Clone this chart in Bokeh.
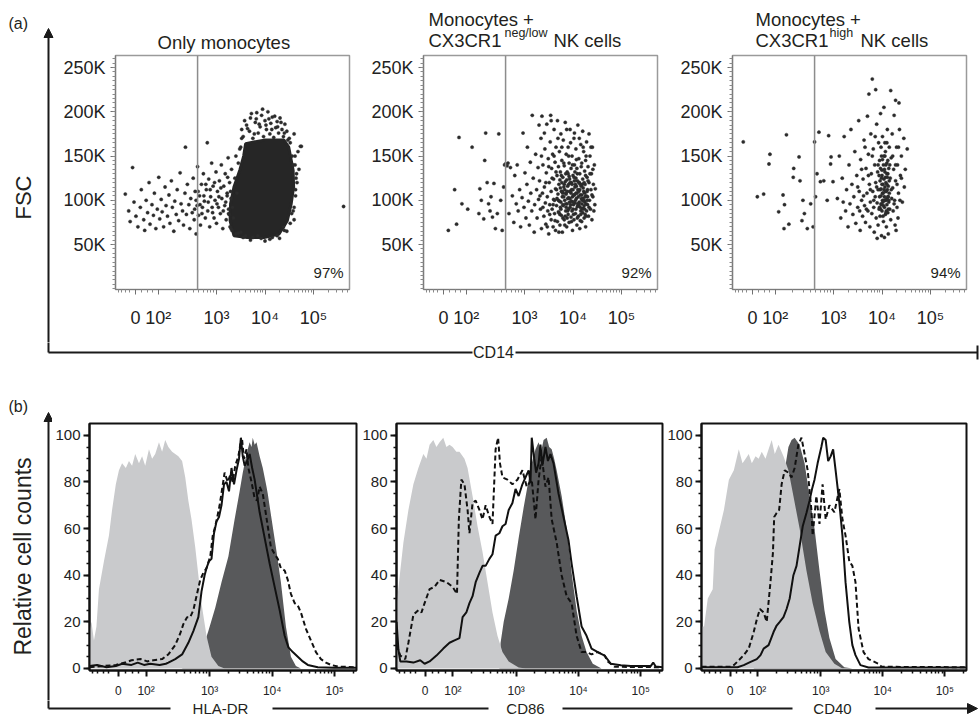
import math
from bokeh.plotting import figure
from bokeh.layouts import row, column
from bokeh.models import Range1d, FixedTicker, Span, Arrow, NormalHead
from bokeh.core.properties import value
from bokeh.embed import file_html
from bokeh.resources import INLINE

FONT = "Liberation Sans"
INK = "#231f20"

# ---------------- (a) data ----------------
A_TITLE1 = ["Only monocytes", "Monocytes +", "Monocytes +"]
A_TITLE2 = ["", "CX3CR1", "CX3CR1"]
A_SUP = ["", "neg/low", "high"]
A_TAIL = ["", "NK cells", "NK cells"]
A_PCT = ["97%", "92%", "94%"]
A_XLABEL = "CD14"
A_YLABEL = "FSC"
A_XTICKS = [1.33, 1.80, 3.0, 4.0, 5.0]
A_XLABELS = ["0", "10²", "10³", "10⁴", "10⁵"]
A_YTICKS = [50, 100, 150, 200, 250]
A_YLABELS = ["50K", "100K", "150K", "200K", "250K"]
A_GATE = 2.61

# dense core of the "only monocytes" population (CD14 decade units, FSC in K)
A1_CORE_X = [3.36, 3.28, 3.29, 3.36, 3.48, 3.56, 3.60, 3.98, 4.39, 4.49, 4.58, 4.59, 4.54, 4.46, 4.29, 3.98, 3.63]
A1_CORE_Y = [60, 77, 96, 115, 134, 150, 164, 168, 168, 160, 134, 115, 96, 77, 62, 58, 58]

A1_POINTS = [
    (1.12, 107), (1.19, 88), (1.22, 76), (1.27, 137), (1.30, 98), (1.34, 82), (1.38, 70), (1.43, 92), (1.45, 112),
    (1.50, 78), (1.52, 66), (1.55, 100), (1.58, 86), (1.61, 120), (1.63, 73), (1.67, 95), (1.70, 83), (1.72, 108),
    (1.75, 68), (1.78, 90), (1.81, 126), (1.83, 79), (1.86, 101), (1.88, 87), (1.91, 70), (1.94, 115), (1.96, 94),
    (1.99, 82), (2.02, 106), (2.04, 74), (2.07, 122), (2.09, 92), (2.12, 65), (2.14, 99), (2.17, 84), (2.19, 112),
    (2.22, 77), (2.25, 131), (2.27, 96), (2.30, 88), (2.32, 72), (2.35, 108), (2.36, 160), (2.38, 84), (2.40, 118),
    (2.43, 95), (2.45, 68), (2.47, 102), (2.50, 86), (2.52, 125), (2.54, 78), (2.56, 110), (2.58, 62), (2.60, 94),
    (2.61, 138), (2.63, 83), (2.65, 105), (2.67, 72), (2.69, 118), (2.71, 92), (2.73, 130), (2.75, 99), (2.77, 80),
    (2.79, 112), (2.81, 165), (2.82, 88), (2.84, 124), (2.86, 70), (2.88, 104), (2.90, 142), (2.91, 92), (2.93, 116),
    (2.95, 80), (2.97, 100), (2.99, 132), (3.00, 74), (3.02, 110), (3.04, 92), (3.06, 122), (3.08, 85), (3.10, 140),
    (3.11, 102), (3.13, 68), (3.15, 116), (3.17, 94), (3.18, 130), (3.20, 78), (3.22, 108), (3.24, 148), (3.25, 90),
    (3.27, 120), (3.28, 70), (3.30, 102), (3.31, 135),
    (2.55, 90), (2.58, 100), (2.62, 110), (2.66, 95), (2.70, 85), (2.74, 105), (2.78, 118), (2.83, 98), (2.87, 112),
    (2.92, 86), (2.96, 120), (3.01, 96), (3.05, 104), (3.09, 114), (3.14, 88), (3.19, 98), (3.23, 126), (3.26, 84),
    (3.29, 110), (3.33, 92),
    (3.40, 150), (3.45, 142), (3.50, 160), (3.38, 125), (3.42, 108), (3.35, 80), (3.32, 66), (3.40, 62), (3.52, 170),
    (3.58, 190), (3.64, 181), (3.72, 198), (3.78, 175), (3.82, 192), (3.88, 186), (3.95, 203), (4.02, 185), (4.08, 192),
    (4.14, 180), (4.20, 195), (4.26, 183), (4.33, 188), (4.40, 176), (4.47, 168), (4.52, 165), (4.56, 150), (4.62, 140),
    (4.64, 125), (4.63, 105), (4.58, 88), (4.52, 74), (4.40, 66), (4.25, 60), (4.10, 56), (3.92, 57), (3.75, 58),
    (3.60, 60), (3.50, 64), (4.70, 135), (4.68, 155), (4.73, 161), (5.62, 93),
    (3.55, 172), (3.62, 185), (3.68, 178), (3.70, 193), (3.75, 170), (3.80, 188), (3.83, 199), (3.86, 176), (3.90, 183),
    (3.93, 196), (3.97, 172), (4.00, 190), (4.03, 180), (4.06, 200), (4.10, 175), (4.12, 187), (4.15, 194), (4.18, 171),
    (4.22, 182), (4.25, 189), (4.28, 176), (4.31, 193), (4.35, 180), (4.38, 172), (4.41, 186), (4.45, 178), (4.50, 170),
    (4.60, 175), (4.75, 161), (3.48, 158), (3.52, 180), (4.62, 150), (4.65, 130), (4.63, 112), (4.60, 92), (4.55, 85),
    (4.66, 120), (4.58, 140), (3.45, 63), (3.55, 58), (3.70, 55), (3.85, 60), (4.00, 54), (4.15, 58), (4.30, 57),
    (4.45, 65), (4.38, 70), (4.60, 78), (3.30, 68), (3.25, 85), (3.22, 105),
]

A2_POINTS = [
    (1.43, 66), (1.56, 112), (1.60, 73), (1.71, 96), (1.65, 171), (1.83, 90), (1.92, 160), (2.06, 85), (2.08, 113),
    (2.11, 100), (2.16, 79), (2.18, 145), (2.20, 176), (2.23, 120), (2.26, 96), (2.29, 88), (2.31, 104), (2.34, 81),
    (2.37, 119), (2.40, 68), (2.44, 85), (2.47, 175), (2.51, 100), (2.54, 66), (2.57, 115), (2.61, 141), (2.64, 139),
    (2.68, 85), (2.71, 137), (2.75, 105), (2.59, 140), (2.66, 142),
    (2.78, 75), (2.80, 128), (2.83, 96), (2.85, 140), (2.87, 88), (2.90, 112), (2.92, 70), (2.95, 103), (2.97, 176),
    (2.99, 92), (3.01, 131), (3.03, 80), (3.05, 118), (3.06, 160), (3.08, 99), (3.10, 72), (3.12, 143), (3.13, 108),
    (3.15, 88), (3.16, 196), (3.18, 125), (3.20, 64), (3.21, 95), (3.23, 152), (3.25, 112), (3.26, 80), (3.28, 137),
    (3.29, 101), (3.30, 185),
    (3.31, 122), (3.33, 90), (3.34, 170), (3.35, 68), (3.36, 195), (3.37, 108), (3.38, 140), (3.40, 82), (3.41, 115),
    (3.42, 158), (3.43, 97), (3.44, 73), (3.45, 131), (3.46, 186), (3.47, 104), (3.48, 88), (3.49, 147), (3.50, 62),
    (3.51, 120), (3.52, 95), (3.53, 166), (3.54, 196), (3.55, 78), (3.55, 110), (3.56, 136), (3.57, 90), (3.58, 152),
    (3.59, 70), (3.60, 124), (3.60, 101), (3.61, 180), (3.62, 85), (3.63, 143), (3.64, 113), (3.64, 66), (3.65, 160),
    (3.66, 94), (3.67, 128), (3.68, 76), (3.68, 190), (3.69, 107), (3.70, 138), (3.70, 87),
    (3.71, 118), (3.72, 99), (3.72, 155), (3.73, 72), (3.74, 132), (3.74, 92), (3.75, 175), (3.76, 110), (3.76, 83),
    (3.77, 145), (3.78, 104), (3.78, 64), (3.79, 126), (3.80, 94), (3.80, 168), (3.81, 115), (3.82, 78), (3.82, 139),
    (3.83, 100), (3.84, 188), (3.84, 121), (3.85, 88), (3.86, 152), (3.86, 107), (3.87, 70), (3.88, 132), (3.88, 96),
    (3.89, 116), (3.90, 160), (3.90, 84), (3.91, 103), (3.92, 142), (3.92, 75), (3.93, 124), (3.94, 92), (3.94, 180),
    (3.95, 110), (3.96, 136), (3.96, 81), (3.97, 99), (3.98, 150), (3.98, 118), (3.99, 66), (4.00, 128), (4.00, 90),
    (4.01, 106), (4.02, 170), (4.02, 78), (4.03, 140), (4.04, 97), (4.04, 115), (4.05, 85), (4.06, 158), (4.06, 125),
    (4.07, 102), (4.08, 72), (4.08, 136), (4.09, 93), (4.10, 112), (4.10, 185), (4.11, 82), (4.12, 147), (4.12, 120),
    (4.13, 98), (4.14, 68), (4.14, 130), (4.15, 106), (4.16, 163), (4.16, 88), (4.17, 116), (4.18, 76), (4.18, 142),
    (4.19, 100), (4.20, 124), (4.20, 178), (4.21, 91), (4.22, 110), (4.22, 155), (4.23, 80), (4.24, 133), (4.24, 98),
    (4.25, 118), (4.26, 70), (4.26, 145), (4.27, 105), (4.28, 88), (4.28, 166), (4.29, 126), (4.30, 95), (4.30, 112),
    (4.31, 138), (4.32, 82), (4.33, 120), (4.33, 175), (4.34, 100), (4.35, 150), (4.36, 90), (4.37, 112), (4.38, 130),
    (4.39, 78), (4.40, 160), (4.41, 104), (4.42, 118), (4.44, 140), (4.45, 95), (4.46, 113),
    (3.62, 100), (3.66, 112), (3.71, 86), (3.75, 98), (3.77, 120), (3.79, 80), (3.83, 112), (3.85, 96), (3.87, 123),
    (3.89, 102), (3.91, 90), (3.93, 110), (3.95, 95), (3.97, 120), (3.99, 104), (4.01, 84), (4.03, 122), (4.05, 100),
    (4.07, 116), (4.09, 80), (4.11, 104), (4.13, 120), (4.15, 92), (4.17, 102), (4.19, 118), (4.21, 102), (4.23, 94),
    (4.25, 104), (4.27, 82), (4.29, 110), (3.74, 114), (3.81, 104), (3.88, 80), (3.96, 108), (4.04, 132), (4.12, 94),
    (4.20, 86), (3.92, 127), (4.00, 112), (4.08, 108),
    (3.32, 105), (3.35, 150), (3.38, 92), (3.41, 176), (3.44, 120), (3.47, 70), (3.50, 138), (3.52, 84), (3.55, 190),
    (3.57, 125), (3.59, 95), (3.61, 150), (3.63, 77), (3.65, 132), (3.67, 102), (3.69, 170), (3.71, 64), (3.73, 123),
    (3.75, 90), (3.77, 160), (3.79, 108), (3.81, 142), (3.83, 72), (3.85, 130), (3.87, 180), (3.89, 88), (3.91, 150),
    (3.93, 98), (3.95, 165), (3.97, 76), (3.99, 140), (4.01, 95), (4.03, 176), (4.05, 118), (4.07, 146), (4.09, 130),
    (4.11, 96), (4.13, 170), (4.15, 77), (4.17, 138), (4.19, 90), (4.21, 160), (4.23, 120), (4.25, 84), (4.27, 150),
    (4.29, 100), (4.31, 122), (4.33, 92), (4.35, 130), (4.37, 160), (4.39, 106), (4.41, 135), (4.43, 88),
    (3.70, 100), (3.73, 84), (3.76, 128), (3.79, 95), (3.82, 118), (3.85, 108), (3.88, 110), (3.91, 118), (3.94, 102),
    (3.97, 112), (4.00, 98), (4.03, 106), (4.06, 90), (4.09, 122), (4.12, 110), (4.15, 118), (4.18, 96), (4.21, 114),
    (4.24, 108), (4.27, 96), (3.86, 92), (3.90, 130), (3.94, 120), (3.98, 88), (4.02, 126), (4.06, 108), (4.10, 96),
    (4.14, 112), (4.18, 106), (4.22, 100), (4.26, 128), (4.30, 104), (3.78, 110), (3.84, 82), (4.16, 84), (4.24, 90),
]

A3_POINTS = [
    (1.14, 166), (1.43, 104), (1.56, 107), (1.69, 152), (1.67, 141), (1.87, 87), (1.96, 106), (1.99, 95), (2.03, 174),
    (1.98, 68), (2.08, 73), (2.17, 126), (2.18, 136), (2.29, 149), (2.31, 122), (2.35, 77), (2.37, 100), (2.40, 85),
    (2.46, 68), (2.53, 96), (2.58, 70), (2.61, 166), (2.63, 104), (2.66, 130), (2.70, 177), (2.73, 121), (2.80, 122),
    (2.87, 100), (2.90, 173), (2.94, 141), (2.95, 149), (2.99, 121),
    (3.08, 102), (3.12, 150), (3.15, 80), (3.18, 125), (3.20, 98), (3.22, 172), (3.25, 88), (3.27, 112), (3.30, 70),
    (3.32, 140), (3.34, 96), (3.36, 180), (3.38, 118), (3.40, 84), (3.42, 104), (3.44, 155), (3.46, 74), (3.48, 128),
    (3.50, 92), (3.52, 190), (3.53, 110), (3.55, 66), (3.56, 146), (3.58, 100), (3.60, 82), (3.61, 124), (3.63, 168),
    (3.64, 94), (3.66, 75), (3.67, 136), (3.69, 108), (3.70, 195), (3.71, 88), (3.72, 152), (3.74, 118), (3.75, 70),
    (3.76, 98), (3.77, 175), (3.78, 130), (3.79, 85), (3.80, 237), (3.81, 110), (3.82, 158), (3.83, 92), (3.84, 64),
    (3.85, 140), (3.86, 104), (3.87, 225), (3.87, 120), (3.88, 80), (3.89, 186), (3.90, 97), (3.91, 132), (3.92, 72),
    (3.92, 112), (3.93, 165), (3.94, 90), (3.95, 145), (3.95, 104), (3.96, 122), (3.96, 82), (3.97, 198), (3.97, 136),
    (3.98, 96), (3.98, 113), (3.99, 150), (3.99, 60), (4.00, 128), (4.00, 88), (4.01, 108), (4.01, 172), (4.02, 118),
    (4.02, 98), (4.03, 140), (4.03, 76), (4.04, 205), (4.04, 124), (4.05, 104), (4.05, 92), (4.06, 132), (4.06, 115),
    (4.07, 84), (4.07, 155), (4.08, 100), (4.08, 120), (4.09, 70), (4.09, 110), (4.10, 142), (4.10, 95), (4.11, 180),
    (4.11, 126), (4.12, 104), (4.12, 86), (4.13, 116), (4.13, 62), (4.14, 136), (4.14, 98), (4.15, 160), (4.15, 108),
    (4.16, 90), (4.17, 125), (4.18, 224), (4.18, 78), (4.19, 148), (4.20, 102), (4.21, 175), (4.22, 114), (4.23, 88),
    (4.24, 135), (4.25, 196), (4.26, 100), (4.27, 72), (4.28, 213), (4.28, 122), (4.30, 160), (4.31, 92), (4.32, 140),
    (4.34, 108), (4.35, 210), (4.36, 180), (4.38, 128), (4.40, 150), (4.42, 98), (4.45, 170), (4.48, 135), (4.52, 158),
    (4.46, 115), (4.33, 80), (4.29, 66), (4.05, 58), (3.90, 57), (3.73, 220),
    (3.98, 105), (4.00, 118), (4.02, 108), (4.04, 112), (4.06, 100), (4.08, 140), (4.10, 118), (4.12, 130), (4.03, 94),
    (4.07, 126), (4.11, 112), (4.01, 146), (4.09, 88), (4.13, 104), (3.97, 90), (4.05, 135), (4.15, 122), (3.99, 125),
    (4.06, 150), (4.10, 102),
    (3.50, 115), (3.54, 88), (3.58, 135), (3.62, 105), (3.65, 160), (3.68, 90), (3.72, 128), (3.76, 112), (3.80, 150),
    (3.83, 100), (3.86, 172), (3.89, 115), (3.92, 140), (3.95, 92), (3.98, 160), (4.01, 100), (4.04, 150), (4.07, 110),
    (4.10, 165), (4.13, 90), (4.16, 140), (4.19, 112), (4.22, 150), (4.25, 96), (4.28, 140), (4.31, 118), (4.34, 160),
    (4.37, 100), (4.40, 125), (3.96, 112), (4.00, 134), (4.04, 100), (4.08, 86), (4.12, 145), (4.02, 82), (4.06, 165),
    (4.10, 130), (3.94, 128), (4.14, 100), (3.99, 95),
]

# ---------------- (b) data ----------------
B_YLABEL = "Relative cell counts"
B_XLABELS_AX = ["HLA-DR", "CD86", "CD40"]
B_XTICKS = [1.539, 1.984, 3.0, 4.0, 5.0]
B_XLABELS = ["0", "10²", "10³", "10⁴", "10⁵"]
B_YTICKS = [0, 20, 40, 60, 80, 100]

B1_LIGHT = [(1.08, 16), (1.11, 20), (1.15, 12), (1.19, 18), (1.23, 34), (1.31, 46), (1.39, 57), (1.44, 68), (1.50, 79),
            (1.55, 85), (1.60, 88), (1.66, 86), (1.71, 89), (1.76, 87), (1.81, 92), (1.87, 88), (1.92, 91), (1.97, 87),
            (2.03, 94), (2.08, 90), (2.13, 92), (2.19, 97), (2.24, 93), (2.29, 98), (2.34, 95), (2.40, 93), (2.45, 92),
            (2.50, 91), (2.56, 89), (2.61, 82), (2.66, 72), (2.71, 64), (2.77, 52), (2.82, 40), (2.87, 28), (2.95, 14),
            (3.03, 5), (3.14, 1), (3.24, 0)]
B1_DARK = [(2.55, 0), (2.66, 1), (2.77, 3), (2.87, 7), (2.98, 16), (3.09, 26), (3.19, 37), (3.30, 48), (3.40, 64),
           (3.48, 76), (3.53, 84), (3.59, 92), (3.64, 97), (3.67, 95), (3.69, 99), (3.72, 96), (3.75, 97), (3.80, 91),
           (3.85, 86), (3.91, 78), (3.93, 75), (3.98, 66), (4.06, 52), (4.14, 37), (4.22, 18), (4.30, 5), (4.38, 1),
           (4.46, 0)]
B1_SOLID = [(1.08, 1), (1.20, 1.5), (1.35, 0.5), (1.50, 1), (1.60, 2), (1.75, 1.5), (1.85, 2.5), (1.95, 1.5),
            (2.05, 2), (2.20, 1.5), (2.30, 2), (2.34, 2.5), (2.45, 4), (2.56, 6), (2.66, 11), (2.74, 16), (2.82, 22),
            (2.87, 33), (2.92, 40), (2.95, 43), (2.99, 46), (3.03, 47), (3.07, 58), (3.11, 63), (3.15, 65), (3.19, 70),
            (3.23, 79), (3.27, 80), (3.31, 76), (3.35, 86), (3.39, 79), (3.43, 85), (3.47, 90), (3.50, 99), (3.53, 91),
            (3.56, 87), (3.60, 89), (3.64, 92), (3.68, 86), (3.72, 81), (3.80, 67), (3.88, 56), (3.96, 45), (4.04, 35),
            (4.12, 25), (4.20, 14), (4.26, 9), (4.33, 7), (4.41, 5), (4.49, 3), (4.57, 1.5), (4.73, 0.5), (4.99, 0.3),
            (5.35, 0.3)]
B1_DASH = [(1.08, 0.5), (1.30, 1), (1.50, 1.5), (1.65, 2.5), (1.75, 3.5), (1.90, 4), (2.00, 3), (2.10, 3.5),
           (2.24, 4), (2.34, 6), (2.45, 10), (2.53, 15), (2.58, 19), (2.64, 22), (2.69, 22), (2.74, 25), (2.79, 31),
           (2.85, 38), (2.90, 41), (2.95, 43), (3.01, 48), (3.05, 57), (3.09, 61), (3.13, 66), (3.16, 70), (3.20, 77),
           (3.24, 84), (3.29, 80), (3.33, 83), (3.37, 80), (3.41, 87), (3.46, 91), (3.49, 96), (3.52, 98), (3.55, 90),
           (3.59, 94), (3.62, 86), (3.67, 80), (3.72, 73), (3.76, 72), (3.80, 78), (3.85, 75), (3.89, 68), (3.93, 61),
           (3.98, 52), (4.04, 49), (4.09, 47), (4.14, 43), (4.20, 42), (4.25, 38), (4.30, 32), (4.36, 28), (4.41, 27),
           (4.46, 24), (4.54, 17), (4.62, 12), (4.70, 7), (4.78, 4), (4.86, 2.5), (4.94, 1.5), (5.05, 0.8), (5.35, 0.5)]

B2_LIGHT = [(1.08, 27), (1.14, 42), (1.19, 54), (1.27, 68), (1.35, 79), (1.43, 86), (1.51, 92), (1.56, 90), (1.61, 96),
            (1.67, 98), (1.72, 95), (1.77, 97), (1.83, 99), (1.88, 95), (1.93, 96), (1.98, 95), (2.04, 93), (2.09, 93),
            (2.17, 90), (2.22, 86), (2.30, 74), (2.38, 61), (2.46, 50), (2.54, 37), (2.62, 24), (2.70, 14), (2.78, 7),
            (2.88, 3), (3.04, 0.4), (3.15, 0)]
B2_DARK = [(2.73, 0), (2.75, 11), (2.80, 20), (2.88, 30), (2.96, 42), (3.04, 56), (3.12, 69), (3.20, 81), (3.25, 88),
           (3.31, 94), (3.36, 97), (3.40, 93), (3.44, 98), (3.49, 99), (3.53, 95), (3.57, 94), (3.61, 90), (3.65, 85),
           (3.73, 74), (3.81, 60), (3.89, 41), (3.97, 25), (4.05, 14), (4.13, 7), (4.23, 2), (4.37, 0)]
B2_SOLID = [(1.08, 20), (1.11, 8), (1.14, 3), (1.24, 3), (1.35, 2.5), (1.46, 3.5), (1.53, 2), (1.61, 3), (1.72, 5.5),
            (1.83, 8.5), (1.93, 11), (2.01, 12), (2.09, 13), (2.14, 22), (2.20, 24), (2.25, 28), (2.30, 31), (2.35, 37),
            (2.41, 41), (2.46, 44), (2.51, 44), (2.57, 47), (2.62, 49), (2.67, 57), (2.73, 58), (2.78, 61), (2.83, 62),
            (2.88, 68), (2.94, 71), (2.99, 77), (3.04, 74), (3.10, 79), (3.15, 82), (3.20, 85), (3.23, 80), (3.25, 99),
            (3.29, 90), (3.32, 84), (3.36, 88), (3.39, 96), (3.42, 87), (3.47, 95), (3.51, 89), (3.55, 92), (3.60, 88),
            (3.68, 75), (3.76, 65), (3.84, 55), (3.89, 45), (3.97, 31), (4.05, 18), (4.13, 14), (4.21, 8.5), (4.31, 7),
            (4.42, 5.5), (4.52, 2), (4.68, 1.4), (4.84, 1), (5.16, 1), (5.20, 2.5), (5.24, 0.8), (5.35, 0.5)]
B2_DASH = [(1.08, 10), (1.14, 5.5), (1.22, 4), (1.27, 11), (1.35, 23), (1.43, 25), (1.48, 24), (1.53, 28), (1.61, 34),
           (1.69, 35), (1.77, 38), (1.88, 37), (1.98, 35), (2.05, 32), (2.08, 64), (2.12, 81), (2.17, 79), (2.22, 68),
           (2.25, 58), (2.30, 71), (2.35, 72), (2.41, 68), (2.46, 64), (2.51, 70), (2.57, 65), (2.62, 62), (2.67, 94),
           (2.71, 99), (2.74, 88), (2.78, 82), (2.86, 81), (2.94, 79), (3.02, 81), (3.10, 85), (3.17, 78), (3.25, 81),
           (3.31, 64), (3.36, 81), (3.41, 91), (3.47, 78), (3.52, 82), (3.57, 64), (3.65, 54), (3.73, 40), (3.81, 31),
           (3.89, 28), (3.97, 14), (4.05, 7), (4.13, 7), (4.21, 6), (4.31, 7), (4.42, 5.5), (4.47, 3), (4.58, 0.7),
           (5.35, 0.5)]

B3_LIGHT = [(1.08, 18), (1.12, 18), (1.18, 30), (1.26, 34), (1.29, 51), (1.37, 60), (1.44, 68), (1.52, 81), (1.60, 85),
            (1.68, 94), (1.74, 88), (1.79, 90), (1.84, 92), (1.89, 88), (1.95, 91), (2.00, 90), (2.05, 93), (2.11, 90),
            (2.16, 94), (2.21, 98), (2.26, 92), (2.32, 96), (2.40, 91), (2.48, 85), (2.56, 74), (2.66, 60), (2.77, 42),
            (2.87, 28), (2.98, 16), (3.08, 7), (3.22, 2), (3.35, 0)]
B3_DARK = [(1.92, 0), (2.08, 11), (2.24, 35), (2.34, 64), (2.42, 85), (2.48, 95), (2.53, 98), (2.58, 99), (2.66, 96),
           (2.74, 88), (2.82, 74), (2.90, 60), (2.98, 42), (3.06, 25), (3.14, 13), (3.24, 4), (3.38, 0.5), (3.51, 0)]
B3_SOLID = [(1.08, 0.5), (1.66, 0.5), (1.76, 1.4), (1.87, 2.8), (1.97, 4), (2.03, 5.7), (2.08, 8.5), (2.16, 10),
            (2.24, 15.6), (2.29, 18.4), (2.34, 20), (2.40, 22), (2.45, 25.5), (2.50, 30), (2.56, 40), (2.61, 44),
            (2.66, 52.5), (2.71, 61), (2.77, 66.7), (2.82, 72), (2.86, 77), (2.90, 81), (2.95, 88), (3.01, 95),
            (3.04, 99), (3.08, 98), (3.12, 89), (3.16, 91), (3.20, 94), (3.24, 85), (3.30, 71), (3.35, 57), (3.40, 37),
            (3.46, 20), (3.51, 10), (3.56, 5.7), (3.64, 1.4), (3.77, 0.4), (5.35, 0.4)]
B3_DASH = [(1.08, 0.7), (1.55, 0.7), (1.60, 1.4), (1.68, 3.5), (1.76, 5.7), (1.84, 8.5), (1.92, 15.6), (1.97, 21),
           (2.02, 25.5), (2.08, 24), (2.13, 20), (2.19, 37), (2.23, 49.6), (2.25, 65), (2.29, 66.7), (2.33, 68),
           (2.37, 79), (2.42, 85), (2.48, 84), (2.53, 82), (2.58, 86), (2.64, 96), (2.69, 99), (2.74, 92), (2.79, 85),
           (2.85, 68), (2.87, 57), (2.93, 74), (2.98, 62), (3.03, 79), (3.08, 64), (3.14, 70), (3.22, 67), (3.30, 77),
           (3.35, 64), (3.40, 57), (3.46, 46), (3.51, 44), (3.56, 37), (3.61, 17), (3.69, 7), (3.77, 4), (3.85, 3),
           (3.93, 2), (3.98, 0.7), (5.35, 0.5)]

# ---------------- axis minor ticks (biexponential display) ----------------
LOGK = [math.log10(k) for k in range(2, 10)]
A_XMINOR = [0.97, 1.05, 1.13, 1.21, 1.45, 1.57, 1.69] + [1.80 + 1.2 * v for v in LOGK] + \
           [3 + v for v in LOGK] + [4 + v for v in LOGK] + [5 + v for v in LOGK[:4]]
A_YMINOR = list(range(0, 265, 5))
B_XMINOR = [1.12, 1.21, 1.30, 1.39, 1.65, 1.76, 1.87] + [1.984 + 1.016 * v for v in LOGK] + \
           [3 + v for v in LOGK] + [4 + v for v in LOGK] + [5 + math.log10(2)]
B_YMINOR = list(range(0, 105, 5))


def split(pairs):
    return [p[0] for p in pairs], [p[1] for p in pairs]


def deco(w, h, l=0, r=0, t=0, b=0):
    # a plain drawing strip whose data units equal its own pixels (y downwards)
    p = figure(width=w, height=h, x_range=Range1d(l, w - r), y_range=Range1d(h - b, t),
               x_axis_type=None, y_axis_type=None, toolbar_location=None,
               output_backend="svg", min_border_left=l, min_border_right=r,
               min_border_top=t, min_border_bottom=b, outline_line_color=None)
    p.background_fill_color = "white"
    p.border_fill_color = "white"
    return p


def txt(p, x, y, s, size, align="left", baseline="alphabetic", angle=0.0):
    p.text(x=[x], y=[y], text=[s], text_font=value(FONT), text_font_size=size,
           text_color=INK, text_align=align, text_baseline=baseline, angle=angle)


def top_panel(w, mbl, mbr, pts, pct, core=None):
    p = figure(width=w, height=288, x_range=Range1d(0.918, 5.742), y_range=Range1d(-0.8, 263.6),
               toolbar_location=None, output_backend="svg",
               min_border_left=mbl, min_border_right=mbr, min_border_top=1, min_border_bottom=53)
    p.xgrid.visible = False
    p.ygrid.visible = False
    p.outline_line_color = "#9a9a9a"
    p.outline_line_width = 1.5
    p.add_layout(Span(location=A_GATE, dimension="height", line_color="#8c8c8c", line_width=1.5))
    if core is not None:
        p.patch(core[0], core[1], fill_color="#262626", line_color="#262626", line_width=3)
    xs, ys = split(pts)
    p.scatter(xs, ys, marker="circle", size=3.3, fill_color="#2b2b2b", line_color="#2b2b2b", line_width=0.4)
    p.text(x=[5.62], y=[18], text=[pct], text_font=value(FONT), text_font_size="15px",
           text_color=INK, text_align="right", text_baseline="alphabetic")
    xa = p.xaxis[0]
    xa.ticker = FixedTicker(ticks=A_XTICKS, minor_ticks=A_XMINOR)
    xa.major_label_overrides = dict(zip(A_XTICKS, A_XLABELS))
    xa.major_label_standoff = 13
    ya = p.yaxis[0]
    ya.ticker = FixedTicker(ticks=A_YTICKS, minor_ticks=A_YMINOR)
    ya.major_label_overrides = dict(zip(A_YTICKS, A_YLABELS))
    ya.major_label_standoff = 5
    for ax in (xa, ya):
        ax.axis_line_color = "#7a7a7a"
        ax.axis_line_width = 1.2
        ax.major_tick_line_color = "#707070"
        ax.minor_tick_line_color = "#8a8a8a"
        ax.major_tick_out = 5
        ax.major_tick_in = 0
        ax.minor_tick_out = 3
        ax.minor_tick_in = 0
        ax.major_label_text_font = FONT
        ax.major_label_text_font_size = "18px"
        ax.major_label_text_color = "#222222"
    return p


def bot_panel(w, mbl, mbr, light, dark, solid, dash):
    p = figure(width=w, height=338, x_range=Range1d(1.079, 5.349), y_range=Range1d(-0.9, 105.1),
               toolbar_location=None, output_backend="svg",
               min_border_left=mbl, min_border_right=mbr, min_border_top=61, min_border_bottom=28)
    p.xgrid.visible = False
    p.ygrid.visible = False
    p.outline_line_color = "#111111"
    p.outline_line_width = 2
    dx, dy = split(dark)
    p.varea(x=dx, y1=[0] * len(dx), y2=dy, fill_color="#58595b")
    lx, ly = split(light)
    p.varea(x=lx, y1=[0] * len(lx), y2=ly, fill_color="#c9cacc")
    sx, sy = split(dash)
    p.line(sx, sy, line_color="#111111", line_width=2, line_dash="5 3")
    sx, sy = split(solid)
    p.line(sx, sy, line_color="#111111", line_width=2)
    xa = p.xaxis[0]
    xa.ticker = FixedTicker(ticks=B_XTICKS, minor_ticks=B_XMINOR)
    xa.major_label_overrides = dict(zip(B_XTICKS, B_XLABELS))
    xa.major_label_standoff = 7
    xa.major_label_text_font_size = "12px"
    ya = p.yaxis[0]
    ya.ticker = FixedTicker(ticks=B_YTICKS, minor_ticks=B_YMINOR)
    ya.major_label_standoff = 3
    ya.major_label_text_font_size = "15px"
    for ax in (xa, ya):
        ax.axis_line_color = "#111111"
        ax.axis_line_width = 2
        ax.major_tick_line_color = "#111111"
        ax.major_tick_line_width = 2
        ax.minor_tick_line_color = "#111111"
        ax.minor_tick_line_width = 1.5
        ax.major_tick_out = 6
        ax.major_tick_in = 0
        ax.minor_tick_out = 3
        ax.minor_tick_in = 0
        ax.major_label_text_font = FONT
        ax.major_label_text_color = "#222222"
    return p


LINE = "#1a1a1a"

# ---------------- row (a) ----------------
leftA = deco(58, 342)
txt(leftA, 8, 23, "(a)", "16px")
txt(leftA, 22.5, 197, A_YLABEL, "22px", align="center", baseline="middle", angle=math.pi / 2)
leftA.add_layout(Arrow(x_start=48, y_start=350, x_end=48, y_end=28, line_width=2, line_color=LINE,
                       end=NormalHead(size=9, fill_color=LINE, line_color=LINE, line_width=1)))

tA1 = deco(300, 54, l=57, r=9)
txt(tA1, 99, 42, A_TITLE1[0], "18.5px")
tA2 = deco(308, 54, l=65, r=9)
txt(tA2, 70, 19, A_TITLE1[1], "18.5px")
txt(tA2, 70, 40, A_TITLE2[1], "18.5px")
txt(tA2, 146, 32, A_SUP[1], "12.5px")
txt(tA2, 195, 40, A_TAIL[1], "18.5px")
tA3 = deco(313, 54, l=66, r=13)
txt(tA3, 89, 19, A_TITLE1[2], "18.5px")
txt(tA3, 89, 40, A_TITLE2[2], "18.5px")
txt(tA3, 163, 32, A_SUP[2], "12.5px")
txt(tA3, 194, 40, A_TAIL[2], "18.5px")

a1 = top_panel(300, 57, 9, A1_POINTS, A_PCT[0], core=(A1_CORE_X, A1_CORE_Y))
a2 = top_panel(308, 65, 9, A2_POINTS, A_PCT[1])
a3 = top_panel(313, 66, 13, A3_POINTS, A_PCT[2])

stripA = deco(979, 20)
stripA.segment(x0=[48, 48, 515, 977], y0=[-3, 10, 10, 3], x1=[48, 472, 977, 977], y1=[10, 10, 10, 17],
               line_width=2, line_color=LINE)
txt(stripA, 493, 10, A_XLABEL, "16px", align="center", baseline="middle")

# ---------------- row (b) ----------------
leftB = deco(52, 338)
txt(leftB, 8, 44, "(b)", "16px")
txt(leftB, 22, 194, B_YLABEL, "23px", align="center", baseline="middle", angle=math.pi / 2)
leftB.add_layout(Arrow(x_start=48, y_start=346, x_end=48, y_end=50, line_width=2, line_color=LINE,
                       end=NormalHead(size=9, fill_color=LINE, line_color=LINE, line_width=1)))

b1 = bot_panel(307, 35, 3, B1_LIGHT, B1_DARK, B1_SOLID, B1_DASH)
b2 = bot_panel(305, 34, 2, B2_LIGHT, B2_DARK, B2_SOLID, B2_DASH)
b3 = bot_panel(315, 33, 13, B3_LIGHT, B3_DARK, B3_SOLID, B3_DASH)

stripB = deco(979, 16)
stripB.segment(x0=[48, 48, 272, 562], y0=[-3, 8, 8, 8], x1=[48, 170, 488, 792], y1=[8, 8, 8, 8],
               line_width=2, line_color=LINE)
stripB.add_layout(Arrow(x_start=875, y_start=8, x_end=977, y_end=8, line_width=2, line_color=LINE,
                        end=NormalHead(size=10, fill_color=LINE, line_color=LINE, line_width=1)))
txt(stripB, 220, 8, B_XLABELS_AX[0], "15px", align="center", baseline="middle")
txt(stripB, 525, 8, B_XLABELS_AX[1], "15px", align="center", baseline="middle")
txt(stripB, 832, 8, B_XLABELS_AX[2], "15px", align="center", baseline="middle")

rowA = row(leftA, column(tA1, a1, spacing=0), column(tA2, a2, spacing=0), column(tA3, a3, spacing=0), spacing=0)
rowB = row(column(leftB, spacing=0), b1, b2, b3, spacing=0)
page = column(rowA, stripA, rowB, stripB, spacing=0)

open("out.html", "w").write(file_html(page, INLINE, title="CD14 FSC and histograms"))
